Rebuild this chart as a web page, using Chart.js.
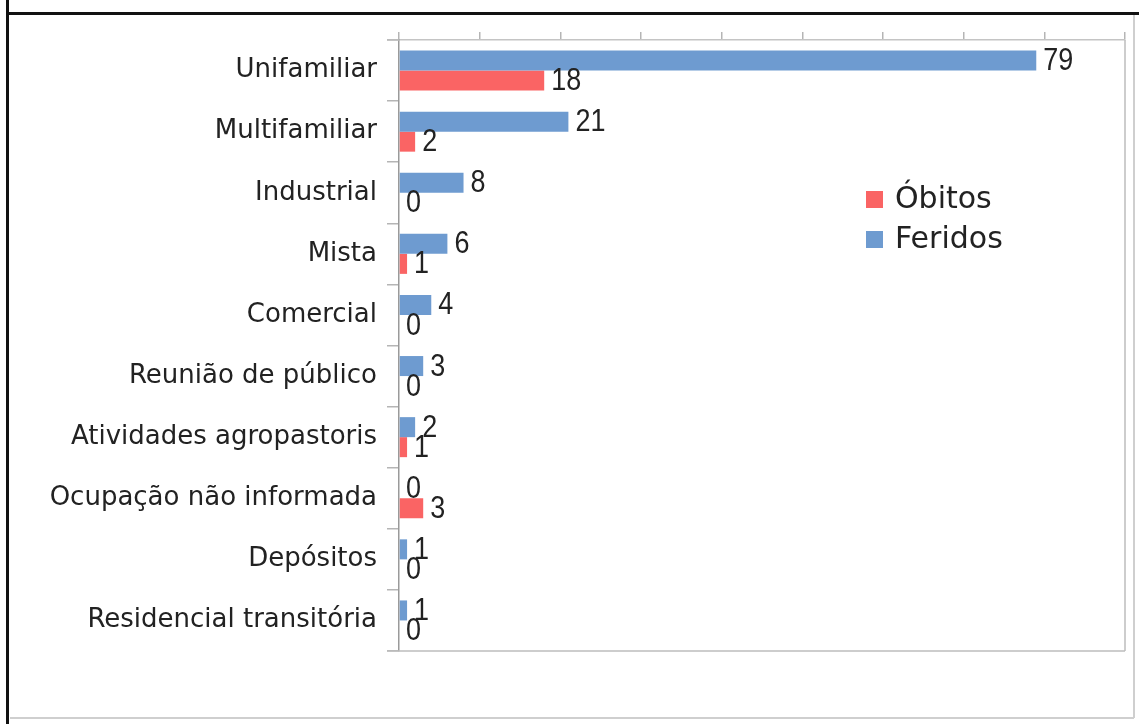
<!DOCTYPE html>
<html>
<head>
<meta charset="utf-8">
<script src="https://cdn.jsdelivr.net/npm/chart.js@4.4.1/dist/chart.umd.min.js"></script>
<style>
  html, body { margin: 0; padding: 0; background: #fff; }
  #wrap { position: relative; width: 1139px; height: 724px; }
  canvas { display: block; }
</style>
</head>
<body>
<div id="wrap"><canvas id="c" width="1139" height="724"></canvas></div>
<script>
const categories = ['Unifamiliar', 'Multifamiliar', 'Industrial', 'Mista', 'Comercial',
  'Reunião de público', 'Atividades agropastoris', 'Ocupação não informada',
  'Depósitos', 'Residencial transitória'];
const feridos = [79, 21, 8, 6, 4, 3, 2, 0, 1, 1];
const obitos = [18, 2, 0, 1, 0, 0, 1, 3, 0, 0];
const xTicksMax = 90;
const xTickStep = 10;

const BLUE = '#6e9bd0';
const RED = '#fa6464';
const TEXT = '#222222';

const framePlugin = {
  id: 'frame',
  beforeDraw(chart) {
    const ctx = chart.ctx;
    ctx.save();
    ctx.fillStyle = '#fff';
    ctx.fillRect(0, 0, chart.width, chart.height);
    ctx.strokeStyle = '#cfcfcf';
    ctx.lineWidth = 2;
    ctx.beginPath();
    ctx.moveTo(10, 718); ctx.lineTo(1134, 718);
    ctx.moveTo(1134, 15); ctx.lineTo(1134, 718);
    ctx.stroke();
    ctx.strokeStyle = '#111';
    ctx.lineWidth = 3;
    ctx.beginPath();
    ctx.moveTo(7.5, 0); ctx.lineTo(7.5, 724);
    ctx.moveTo(6, 13.5); ctx.lineTo(1139, 13.5);
    ctx.stroke();
    ctx.restore();
  },
  afterDraw(chart) {
    const a = chart.chartArea;
    const ctx = chart.ctx;
    ctx.save();
    ctx.strokeStyle = '#bdbdbd';
    ctx.lineWidth = 1.5;
    ctx.beginPath();
    ctx.moveTo(a.right, a.top); ctx.lineTo(a.right, a.bottom);
    ctx.moveTo(a.left - 12, a.bottom); ctx.lineTo(a.right, a.bottom);
    ctx.moveTo(a.left - 12, a.top); ctx.lineTo(a.left, a.top);
    ctx.stroke();
    ctx.restore();
  }
};

const valueLabels = {
  id: 'valueLabels',
  afterDatasetsDraw(chart) {
    const ctx = chart.ctx;
    ctx.save();
    ctx.font = "31px \"Liberation Sans\", Arial, sans-serif";
    ctx.fillStyle = TEXT;
    ctx.textAlign = 'left';
    ctx.textBaseline = 'middle';
    const sx = 0.87;
    chart.data.datasets.forEach((ds, i) => {
      const meta = chart.getDatasetMeta(i);
      meta.data.forEach((el, j) => {
        ctx.save();
        ctx.translate(el.x + 7, el.y + 1);
        ctx.scale(sx, 1);
        ctx.fillText(String(ds.data[j]), 0, 0);
        ctx.restore();
      });
    });
    ctx.restore();
  }
};

const customLegend = {
  id: 'customLegend',
  afterDraw(chart) {
    const ctx = chart.ctx;
    ctx.save();
    ctx.font = "30px \"DejaVu Sans\", sans-serif";
    ctx.textBaseline = 'middle';
    ctx.textAlign = 'left';
    const order = [1, 0];
    const x = 866, y0 = 200, dy = 40;
    order.forEach((di, k) => {
      const ds = chart.data.datasets[di];
      const y = y0 + k * dy;
      ctx.fillStyle = ds.backgroundColor;
      ctx.fillRect(x, y - 9, 17, 17);
      ctx.fillStyle = TEXT;
      ctx.fillText(ds.label, x + 29, y);
    });
    ctx.restore();
  }
};

new Chart(document.getElementById('c'), {
  type: 'bar',
  data: {
    labels: categories,
    datasets: [
      { label: 'Feridos', data: feridos, backgroundColor: BLUE, borderWidth: 0 },
      { label: 'Óbitos', data: obitos, backgroundColor: RED, borderWidth: 0 }
    ]
  },
  options: {
    indexAxis: 'y',
    responsive: false,
    animation: false,
    events: [],
    layout: { padding: { top: 32, right: 14, bottom: 73, left: 0 } },
    datasets: { bar: { categoryPercentage: 0.655, barPercentage: 1.0 } },
    plugins: {
      legend: { display: false },
      tooltip: { enabled: false },
      title: { display: false }
    },
    scales: {
      x: {
        position: 'top',
        min: 0,
        max: xTicksMax,
        ticks: { display: false, stepSize: xTickStep },
        grid: { drawOnChartArea: false, drawTicks: true, tickLength: 8, color: '#b5b5b5', lineWidth: 1.5 },
        border: { display: true, color: '#c4c4c4', width: 1.5 },
        afterFit(s) { s.height = 8; }
      },
      y: {
        ticks: {
          color: TEXT,
          padding: 10,
          font: { family: "'DejaVu Sans', sans-serif", size: 26 }
        },
        grid: { offset: true, drawOnChartArea: false, drawTicks: true, tickLength: 12, color: '#b5b5b5', lineWidth: 1.5 },
        border: { display: true, color: '#9a9a9a', width: 1.5 },
        afterFit(s) { s.width = 399; }
      }
    }
  },
  plugins: [framePlugin, valueLabels, customLegend]
});
</script>
</body>
</html>
